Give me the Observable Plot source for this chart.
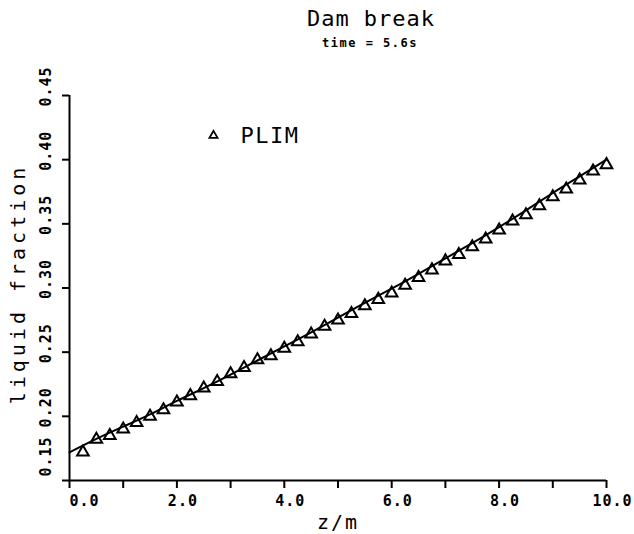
<!DOCTYPE html>
<html>
<head>
<meta charset="utf-8">
<script src="https://cdn.jsdelivr.net/npm/d3@7"></script>
<script src="https://cdn.jsdelivr.net/npm/@observablehq/plot@0.6"></script>
<style>
  body { margin: 0; background: #fff; }
  #chart { position: relative; width: 634px; height: 534px; background: #fff; }
  .head { position: absolute; transform: translateX(-50%); white-space: nowrap;
          font-family: "DejaVu Sans Mono", monospace; color: #000; line-height: 1; }
  #title { left: 371px; top: 8px; font-size: 22px; letter-spacing: 1px; }
  #subtitle { left: 370px; top: 37px; font-size: 12px; font-weight: bold; letter-spacing: 1.5px; }
  #plot { position: absolute; left: 0; top: 55px; }
  #plot svg { overflow: visible; }
</style>
</head>
<body>
<div id="chart">
  <div class="head" id="title">Dam break</div>
  <div class="head" id="subtitle">time = 5.6s</div>
  <div id="plot"></div>
</div>
<script>
// PLIM solution: liquid fraction at each cell position z (m)
const plimZ = [0.25, 0.5, 0.75, 1.0, 1.25, 1.5, 1.75, 2.0, 2.25, 2.5,
               2.75, 3.0, 3.25, 3.5, 3.75, 4.0, 4.25, 4.5, 4.75, 5.0,
               5.25, 5.5, 5.75, 6.0, 6.25, 6.5, 6.75, 7.0, 7.25, 7.5,
               7.75, 8.0, 8.25, 8.5, 8.75, 9.0, 9.25, 9.5, 9.75, 10.0];
const plimFraction = [0.172, 0.182, 0.185, 0.190, 0.195, 0.200, 0.205, 0.211, 0.216, 0.222,
                      0.227, 0.233, 0.238, 0.244, 0.247, 0.253, 0.258, 0.264, 0.270, 0.275,
                      0.280, 0.286, 0.291, 0.296, 0.302, 0.308, 0.314, 0.321, 0.326, 0.332,
                      0.338, 0.345, 0.352, 0.357, 0.364, 0.371, 0.377, 0.384, 0.391, 0.396];

// Reference (exact) profile
const exactZ = [0, 0.5, 1.0, 1.5, 2.0, 2.5, 3.0, 3.5, 4.0, 4.5, 5.0,
                5.5, 6.0, 6.5, 7.0, 7.5, 8.0, 8.5, 9.0, 9.5, 10.0];
const exactFraction = [0.172, 0.1825, 0.192, 0.2015, 0.212, 0.222, 0.2325, 0.2435, 0.2545, 0.2655, 0.277,
                       0.2885, 0.2995, 0.311, 0.323, 0.335, 0.3475, 0.3605, 0.374, 0.387, 0.400];

// Axis ticks
const xTicks = [0, 1, 2, 3, 4, 5, 6, 7, 8, 9, 10];
const xTickLabels = [2, 4, 6, 8, 10];
const yTicks = [0.15, 0.20, 0.25, 0.30, 0.35, 0.40, 0.45];
const yTickLabels = [0.20, 0.25, 0.30, 0.35, 0.40, 0.45];

const plim = plimZ.map((pos, i) => ({pos, frac: plimFraction[i]}));
const exact = exactZ.map((pos, i) => ({pos, frac: exactFraction[i]}));

const mono = "'DejaVu Sans Mono', monospace";
const tickText = {fontSize: 15, fontWeight: "bold", fontFamily: mono, fill: "#000",
                  textAnchor: "middle", lineAnchor: "middle"};
const titleText = {fontSize: 20, fontFamily: mono, fill: "#000",
                   textAnchor: "middle", lineAnchor: "middle"};

const chart = Plot.plot({
  width: 634,
  height: 479,
  marginLeft: 69,
  marginRight: 28,
  marginTop: 40,
  marginBottom: 54,
  x: {domain: [0, 10]},
  y: {domain: [0.15, 0.45]},
  style: {background: "#fff", color: "#000", fontFamily: mono, overflow: "visible"},
  marks: [
    Plot.axisX(xTicks, {tickSize: 8, strokeWidth: 2, tickFormat: () => "", label: null}),
    Plot.axisY(yTicks, {tickSize: 7, strokeWidth: 2, tickFormat: () => "", label: null}),
    Plot.ruleY([0.15], {stroke: "#000", strokeWidth: 2}),
    Plot.ruleX([0], {stroke: "#000", strokeWidth: 2}),

    // tick labels
    Plot.text(xTickLabels, {x: d => d, frameAnchor: "bottom", dy: 21, dx: 6, text: d => d.toFixed(1), ...tickText}),
    Plot.text([0], {x: d => d, frameAnchor: "bottom", dy: 21, dx: 15, text: d => d.toFixed(1), ...tickText}),
    Plot.text(yTickLabels, {y: d => d, frameAnchor: "left", rotate: -90, dx: -23, dy: -9, text: d => d.toFixed(2), ...tickText}),
    Plot.text([0.15], {y: d => d, frameAnchor: "left", rotate: -90, dx: -23, dy: -24, text: d => d.toFixed(2), ...tickText}),

    // axis titles
    Plot.text(["liquid fraction"], {frameAnchor: "left", rotate: -90, dx: -51, dy: -4, ...titleText}),
    Plot.text(["z/m"], {frameAnchor: "bottom", dy: 42, ...titleText}),

    // data
    Plot.line(exact, {x: "pos", y: "frac", stroke: "#000", strokeWidth: 2, curve: "natural"}),
    Plot.dot(plim, {x: "pos", y: "frac", symbol: "triangle", r: 4.3, stroke: "#000", strokeWidth: 2, fill: "none"}),

    // legend
    Plot.dot([0], {frameAnchor: "top-left", dx: 144, dy: 40, symbol: "triangle", r: 3, stroke: "#000", strokeWidth: 1.8, fill: "none"}),
    Plot.text(["PLIM"], {frameAnchor: "top-left", dx: 171, dy: 40, textAnchor: "start", lineAnchor: "middle",
                         fontSize: 22, fontFamily: mono, fill: "#000"})
  ]
});

// Wide plotter-style letter spacing for the text labels
const spacing = {"liquid fraction": 4, "z/m": 2, "PLIM": 1.5};
d3.select(chart).selectAll("text").each(function () {
  const t = this.textContent;
  if (t in spacing) this.style.letterSpacing = spacing[t] + "px";
  else if (/^\d+\.\d+$/.test(t)) this.style.letterSpacing = "1px";
});

document.getElementById("plot").append(chart);
</script>
</body>
</html>
